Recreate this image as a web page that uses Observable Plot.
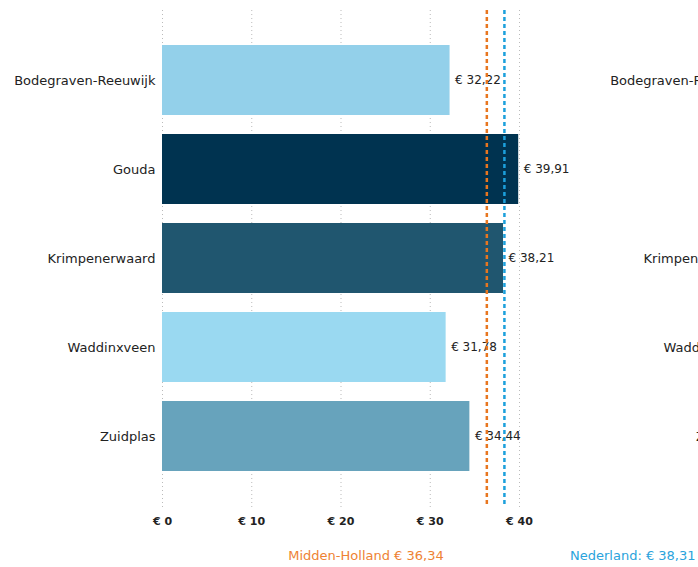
<!DOCTYPE html>
<html>
<head>
<meta charset="utf-8">
<script src="https://cdn.jsdelivr.net/npm/d3@7"></script>
<script src="https://cdn.jsdelivr.net/npm/@observablehq/plot@0.6"></script>
<style>
  html, body { margin: 0; padding: 0; background: #fff; overflow: hidden; width: 698px; height: 567px; }
  #wrap { position: relative; width: 698px; height: 567px; overflow: hidden; font-family: "DejaVu Sans", Verdana, sans-serif; }
  #left { position: absolute; left: 0; top: 0; width: 596px; }
  #right { position: absolute; left: 596px; top: 0; width: 596px; }
  #wrap svg { max-width: none !important; }
  .leg { position: absolute; top: 548px; font-size: 13px; white-space: nowrap; }
</style>
</head>
<body>
<div id="wrap">
  <div id="left"></div>
  <div id="right"></div>
  <div class="leg" id="legMH" style="color:#ee8233;"></div>
  <div class="leg" id="legNL" style="color:#2aa3dc;"></div>
</div>
<script>
const gemeenten = ["Bodegraven-Reeuwijk", "Gouda", "Krimpenerwaard", "Waddinxveen", "Zuidplas"];
const bedragen = [32.22, 39.91, 38.21, 31.78, 34.44];
const kleuren = ["#93d0ea", "#003350", "#20566f", "#9ad9f1", "#67a3bc"];
const xTicks = [0, 10, 20, 30, 40];
const referentieNamen = ["Midden-Holland", "Nederland"];
const referentieWaarden = [36.34, 38.31];
const referentieKleuren = ["#e8761f", "#1ca0dc"];

const data = gemeenten.map((g, i) => ({ gemeente: g, bedrag: bedragen[i] }));
const euro = v => "€ " + v.toFixed(2).replace(".", ",");

const common = {
  width: 596,
  height: 537,
  marginLeft: 162,
  marginRight: 77,
  marginTop: 10,
  marginBottom: 30,
  style: { fontFamily: "'DejaVu Sans', Verdana, sans-serif", fontSize: "12px", color: "#222", background: "transparent", maxWidth: "none" },
  x: { domain: [0, 40], label: null },
  y: { type: "band", domain: gemeenten, padding: 0.211, paddingOuter: 0.367, label: null },
  color: { domain: gemeenten, range: kleuren }
};

const refMarks = referentieWaarden.map((v, i) =>
  Plot.ruleX([v], { stroke: referentieKleuren[i], strokeWidth: 2.5, strokeDasharray: "4,3" })
);

const left = Plot.plot({
  ...common,
  marks: [
    Plot.gridX(xTicks, { stroke: "#bbb", strokeOpacity: 1, strokeDasharray: "1,3" }),
    Plot.barX(data, { y: "gemeente", x: "bedrag", fill: "gemeente" }),
    Plot.text(data, { y: "gemeente", x: "bedrag", text: d => euro(d.bedrag), textAnchor: "start", dx: 5, fill: "#222", fontSize: 12 }),
    ...refMarks,
    Plot.axisX({ ticks: xTicks, tickFormat: d => "€ " + d, tickSize: 0, tickPadding: 10, fontWeight: "bold", fontSize: 11 }),
    Plot.axisY({ tickSize: 0, tickPadding: 7, fontSize: 13 })
  ]
});
document.getElementById("left").appendChild(left);

const right = Plot.plot({
  ...common,
  marks: [
    Plot.axisY({ tickSize: 0, tickPadding: 7, fontSize: 13 })
  ]
});
document.getElementById("right").appendChild(right);

const mh = document.getElementById("legMH");
mh.textContent = referentieNamen[0] + " " + euro(referentieWaarden[0]);
const nl = document.getElementById("legNL");
nl.textContent = referentieNamen[1] + ": " + euro(referentieWaarden[1]);
nl.style.left = "570px";
mh.style.left = (366 - mh.getBoundingClientRect().width / 2) + "px";
</script>
</body>
</html>
